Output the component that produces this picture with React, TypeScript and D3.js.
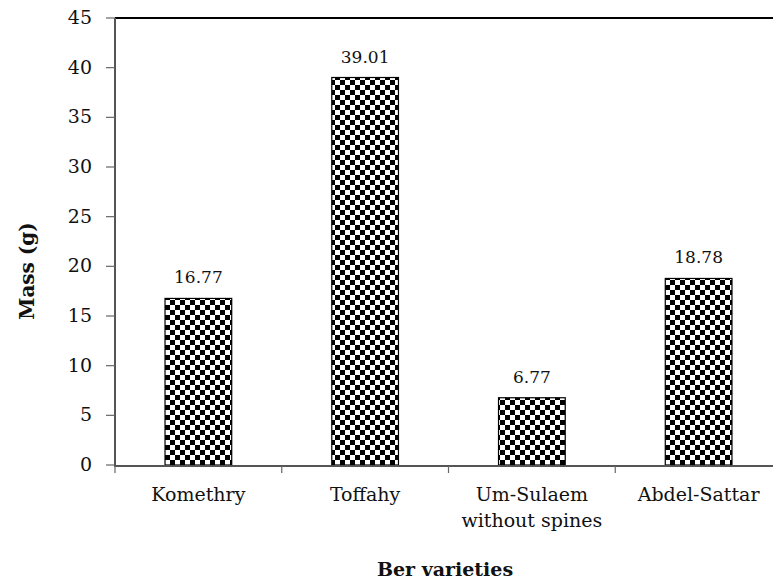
import * as d3 from "d3";

const categories = ["Komethry", "Toffahy", "Um-Sulaem\nwithout spines", "Abdel-Sattar"];
const values = [16.77, 39.01, 6.77, 18.78];
const yTicks = [0, 5, 10, 15, 20, 25, 30, 35, 40, 45];

export default function App() {
  const width = 773;
  const height = 582;
  const left = 115;
  const top = 18;
  const bottom = 465;
  const right = 782;

  const x = d3.scaleBand<string>().domain(categories).range([left, right]).paddingInner(0.6).paddingOuter(0.3);
  const band = d3.scaleBand<string>().domain(categories).range([left, right]);
  const y = d3.scaleLinear().domain([0, 45]).range([bottom, top]);
  const font = "DejaVu Serif";

  return (
    <svg width={width} height={height} style={{ position: "absolute", left: 0, top: 0, background: "#fff" }}>
      <defs>
        <pattern id="checker" width={10} height={10} patternUnits="userSpaceOnUse">
          <rect width={10} height={10} fill="#fff" />
          <rect width={5} height={5} fill="#000" />
          <rect x={5} y={5} width={5} height={5} fill="#000" />
        </pattern>
      </defs>
      {/* frame top */}
      <line x1={left} x2={width} y1={top} y2={top} stroke="#000" strokeWidth={2} />
      {values.map((v, i) => (
        <g key={i}>
          <rect
            x={x(categories[i])!}
            y={y(v)}
            width={x.bandwidth()}
            height={bottom - y(v)}
            fill="url(#checker)"
            stroke="#000"
            strokeWidth={1.2}
          />
          <text
            x={x(categories[i])! + x.bandwidth() / 2}
            y={y(v) - 15}
            textAnchor="middle"
            style={{ fontFamily: font }}
            fontSize={17}
            fill="#111"
          >
            {v.toFixed(2)}
          </text>
        </g>
      ))}
      {/* y axis */}
      <line x1={left} x2={left} y1={top} y2={bottom + 1} stroke="#555" strokeWidth={2} />
      {yTicks.map((t) => (
        <g key={t}>
          <line x1={left - 9} x2={left} y1={y(t)} y2={y(t)} stroke="#666" strokeWidth={1.2} />
          <text x={left - 23} y={y(t) + 6} textAnchor="end" style={{ fontFamily: font }} fontSize={19} fill="#111">
            {t}
          </text>
        </g>
      ))}
      {/* x axis */}
      <line x1={left - 1} x2={width} y1={bottom + 1} y2={bottom + 1} stroke="#555" strokeWidth={2} />
      {categories.map((c) => (
        <line key={"t" + c} x1={band(c)!} x2={band(c)!} y1={bottom + 1} y2={bottom + 8} stroke="#666" strokeWidth={1.2} />
      ))}
      {categories.map((c) => (
        <text
          key={c}
          x={band(c)! + band.bandwidth() / 2}
          y={501}
          textAnchor="middle"
          style={{ fontFamily: font }}
          fontSize={19}
          fill="#111"
        >
          {c.split("\n").map((line, j) => (
            <tspan key={j} x={band(c)! + band.bandwidth() / 2} dy={j === 0 ? 0 : 26}>
              {line}
            </tspan>
          ))}
        </text>
      ))}
      <text
        x={445}
        y={576}
        textAnchor="middle"
        style={{ fontFamily: font }}
        fontSize={19}
        fontWeight="bold"
        fill="#111"
      >
        Ber varieties
      </text>
      <text
        transform={`translate(34, 271) rotate(-90)`}
        textAnchor="middle"
        style={{ fontFamily: font }}
        fontSize={20}
        fontWeight="bold"
        fill="#111"
      >
        Mass (g)
      </text>
    </svg>
  );
}
